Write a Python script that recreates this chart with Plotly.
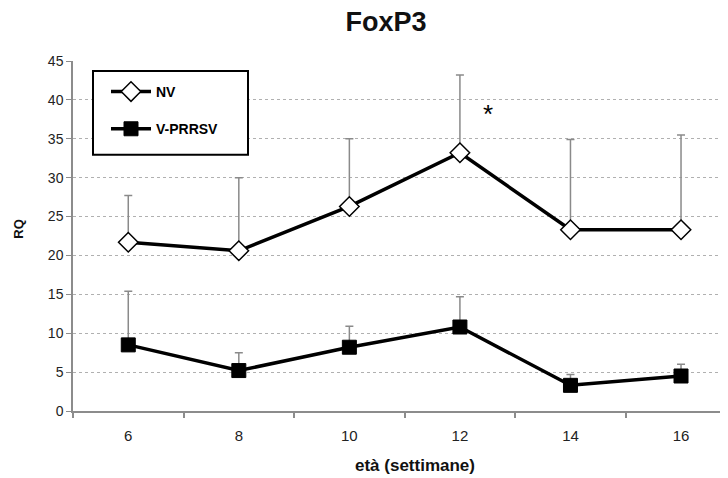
import plotly.graph_objects as go

weeks = [6, 8, 10, 12, 14, 16]
nv_mean = [21.7, 20.6, 26.3, 33.2, 23.3, 23.3]
nv_upper = [27.7, 30.0, 35.0, 43.2, 34.9, 35.5]
prrsv_mean = [8.5, 5.2, 8.2, 10.8, 3.3, 4.5]
prrsv_upper = [15.4, 7.5, 10.9, 14.7, 4.7, 6.0]
y_ticks = [0, 5, 10, 15, 20, 25, 30, 35, 40, 45]

nv_err = [u - m for u, m in zip(nv_upper, nv_mean)]
pr_err = [u - m for u, m in zip(prrsv_upper, prrsv_mean)]

FONT = "Liberation Sans, Arial, sans-serif"
NARROW = "Liberation Sans Narrow, Arial Narrow, Liberation Sans, Arial, sans-serif"

# page body has an 8px margin: figure is offset by (8, 8) on screen
OFF = 8
W, H = 728 - OFF, 478 - OFF
PL, PR, PT, PB = 73, 728, 61, 411.5  # plot area in screen px


def px_x(sx):
    return (sx - PL) / (PR - PL)


def px_y(sy):
    return (PB - sy) / (PB - PT)


fig = go.Figure()
fig.add_trace(go.Scatter(
    x=weeks, y=nv_mean, name="<b>NV</b>", mode="lines+markers",
    legendgroup="a",
    line=dict(color="black", width=3.5),
    marker=dict(symbol="diamond", size=15, color="white",
                line=dict(color="black", width=1.5)),
    error_y=dict(type="data", symmetric=False, array=nv_err,
                 arrayminus=[0] * len(nv_err), color="#8a8a8a",
                 thickness=1.5, width=4),
))
fig.add_trace(go.Scatter(
    x=weeks, y=prrsv_mean, name="<b>V-PRRSV</b>", mode="lines+markers",
    legendgroup="b",
    line=dict(color="black", width=3.5),
    marker=dict(symbol="square", size=14, color="black",
                line=dict(color="black", width=1)),
    error_y=dict(type="data", symmetric=False, array=pr_err,
                 arrayminus=[0] * len(pr_err), color="#8a8a8a",
                 thickness=1.5, width=4),
))

fig.add_annotation(x=12.5, y=38.2, text="*", showarrow=False,
                   font=dict(family=FONT, size=26, color="black"))

# y axis title
fig.add_annotation(xref="paper", yref="paper", x=px_x(19), y=px_y(229),
                   text="<b>RQ</b>", textangle=-90, showarrow=False,
                   xanchor="center", yanchor="middle",
                   font=dict(family=FONT, size=13, color="#111"))
# x axis title
fig.add_annotation(xref="paper", yref="paper", x=px_x(415), y=px_y(466),
                   text="<b>età (settimane)</b>", showarrow=False,
                   xanchor="center", yanchor="middle",
                   font=dict(family=FONT, size=17, color="#111"))

# legend frame
fig.add_shape(type="rect", xref="paper", yref="paper",
              x0=px_x(93), x1=px_x(248), y0=px_y(155), y1=px_y(71),
              line=dict(color="black", width=2), fillcolor="white",
              layer="above")

fig.update_layout(
    width=W, height=H,
    margin=dict(l=PL - OFF, r=0, t=PT - OFF, b=H - (PB - OFF)),
    paper_bgcolor="white", plot_bgcolor="white",
    title=dict(text="<b>FoxP3</b>", x=(386 - OFF) / W, xanchor="center",
               y=1 - (22 - OFF) / H, yanchor="middle",
               font=dict(family=FONT, size=27, color="#111")),
    showlegend=True,
    legend=dict(x=px_x(106), y=px_y(76), xanchor="left", yanchor="top",
                borderwidth=0, bgcolor="rgba(0,0,0,0)",
                font=dict(family=FONT, size=14, color="black"),
                itemwidth=40, tracegroupgap=16,
                traceorder="grouped"),
)
fig.update_xaxes(
    range=[5, 16.85], tickvals=weeks, ticktext=[str(w) for w in weeks],
    ticks="", showgrid=False, zeroline=False,
    showline=True, linecolor="#8c8c8c", linewidth=1.5,
    tickfont=dict(family=NARROW, size=15, color="#222"),
    ticklabelstandoff=10,
    minor=dict(tick0=7, dtick=2, ticks="outside", ticklen=5,
               tickcolor="#8c8c8c", tickwidth=1.5, showgrid=False),
    automargin=False,
)
fig.update_yaxes(
    range=[0, 45], tickvals=y_ticks,
    ticks="outside", ticklen=5, tickcolor="#8c8c8c", tickwidth=1,
    showgrid=True, gridcolor="#b0b0b0", griddash="dot", gridwidth=1,
    zeroline=False, showline=True, linecolor="#8c8c8c", linewidth=1.5,
    tickfont=dict(family=FONT, size=14, color="#222"),
    automargin=False,
)

fig.write_html("out.html")
